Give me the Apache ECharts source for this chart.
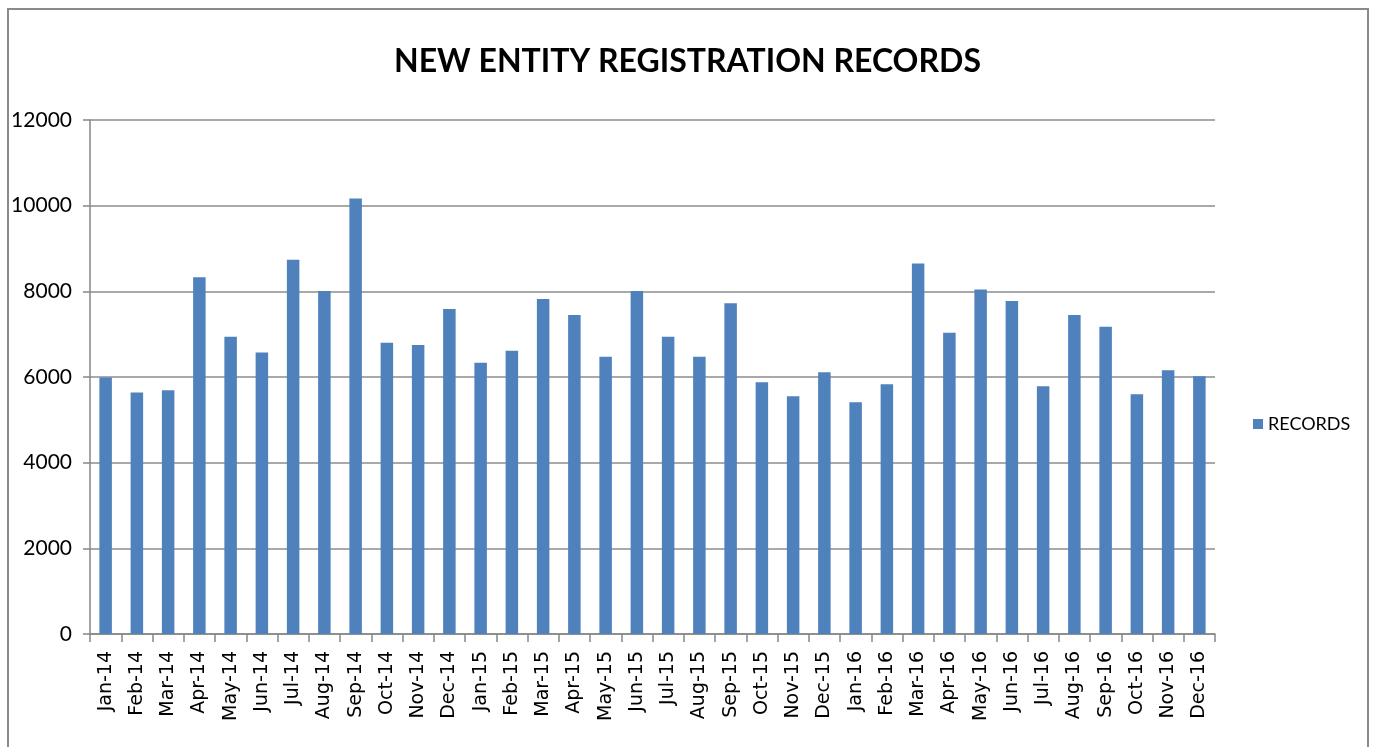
<!DOCTYPE html>
<html>
<head>
<meta charset="utf-8">
<title>New Entity Registration Records</title>
<script src="https://cdn.jsdelivr.net/npm/echarts@6/dist/echarts.min.js"></script>
<style>
  html, body { margin: 0; padding: 0; background: #fff; }
  #chart { width: 1375px; height: 747px; }
</style>
</head>
<body>
<div id="chart"></div>
<script>
// months on the x axis
const months = [
  "Jan-14", "Feb-14", "Mar-14", "Apr-14", "May-14", "Jun-14",
  "Jul-14", "Aug-14", "Sep-14", "Oct-14", "Nov-14", "Dec-14",
  "Jan-15", "Feb-15", "Mar-15", "Apr-15", "May-15", "Jun-15",
  "Jul-15", "Aug-15", "Sep-15", "Oct-15", "Nov-15", "Dec-15",
  "Jan-16", "Feb-16", "Mar-16", "Apr-16", "May-16", "Jun-16",
  "Jul-16", "Aug-16", "Sep-16", "Oct-16", "Nov-16", "Dec-16"
];

// records per month
const records = [
  5990, 5640, 5690, 8330, 6940, 6570, 8740, 8010, 10170, 6800, 6750, 7590,
  6330, 6610, 7820, 7450, 6470, 8010, 6940, 6470, 7720, 5880, 5550, 6110,
  5410, 5830, 8650, 7035, 8045, 7775, 5785, 7450, 7175, 5600, 6155, 6015
];

const yTicks = [0, 2000, 4000, 6000, 8000, 10000, 12000];

const chart = echarts.init(document.getElementById("chart"));
chart.setOption({
  backgroundColor: "#fff",
  animation: false,
  title: {
    text: "NEW ENTITY REGISTRATION RECORDS",
    left: "center",
    top: 41,
    textStyle: {
      fontFamily: "Lato, sans-serif",
      fontWeight: "bold",
      fontSize: 32,
      color: "#000"
    }
  },
  legend: {
    data: ["RECORDS"],
    orient: "vertical",
    left: 1248,
    top: 410,
    icon: "rect",
    itemWidth: 10,
    itemHeight: 10,
    itemGap: 6,
    textStyle: {
      fontFamily: "Lato, sans-serif",
      fontSize: 18,
      color: "#000"
    }
  },
  grid: { left: 90, right: 160, top: 120, bottom: 113 },
  graphic: [{
    type: "rect",
    shape: { x: 8, y: 9, width: 1360, height: 800 },
    style: { fill: "none", stroke: "#8a8a8a", lineWidth: 2 }
  }],
  xAxis: {
    type: "category",
    data: months,
    axisLine: { lineStyle: { color: "#868686", width: 1.5 } },
    axisTick: { show: true, length: 8, alignWithLabel: false, lineStyle: { color: "#868686", width: 1.5 } },
    axisLabel: {
      rotate: 90,
      interval: 0,
      margin: 17,
      fontFamily: "'DejaVu Sans', sans-serif",
      fontSize: 19,
      color: "#000"
    }
  },
  yAxis: {
    type: "value",
    min: yTicks[0],
    max: yTicks[yTicks.length - 1],
    interval: 2000,
    axisLine: { show: true, lineStyle: { color: "#868686", width: 1.5 } },
    axisTick: { show: true, length: 7, lineStyle: { color: "#868686", width: 1.5 } },
    splitLine: { lineStyle: { color: "#8c8c8c", width: 1.5 } },
    axisLabel: {
      margin: 18,
      formatter: (v) => String(v),
      fontFamily: "Lato, sans-serif",
      fontSize: 21,
      color: "#000"
    }
  },
  series: [{
    name: "RECORDS",
    type: "bar",
    data: records,
    barWidth: 12.5,
    itemStyle: { color: "#4f81bd" }
  }]
});
</script>
</body>
</html>
